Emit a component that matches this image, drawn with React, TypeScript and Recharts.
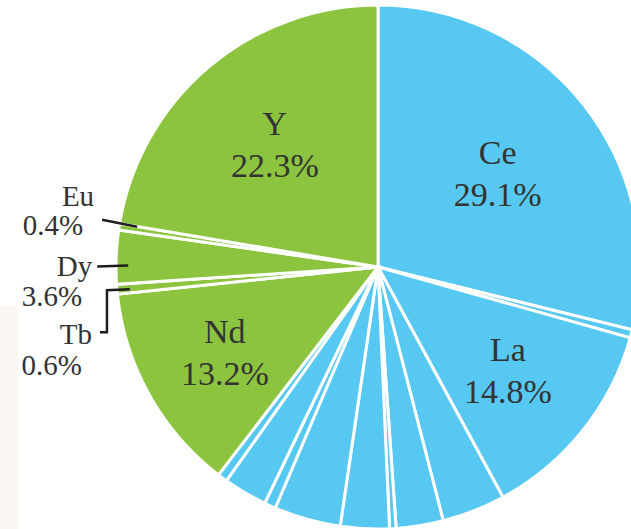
import React from "react";
import { Cell, Pie, PieChart } from "recharts";

// slices clockwise from 12 o'clock; the unnamed thin slices are left unlabeled
const elements = ["Ce", "o1", "La", "o2", "o3", "o4", "o5", "o6", "o7", "o8", "o9", "Nd", "Tb", "Dy", "Eu", "Y"];
const shares = [28.8, 0.5, 12.7, 3.9, 2.9, 0.4, 3.0, 4.1, 0.7, 2.7, 0.6, 12.9, 0.6, 3.3, 0.4, 22.3];
const groups = ["A", "A", "A", "A", "A", "A", "A", "A", "A", "A", "A", "B", "B", "B", "B", "B"];

const labeledNames = ["Ce", "La", "Nd", "Tb", "Dy", "Eu", "Y"];
const labeledPercents = ["29.1%", "14.8%", "13.2%", "0.6%", "3.6%", "0.4%", "22.3%"];

const data = elements.map((name, i) => ({ name, value: shares[i], group: groups[i] }));
const pctByName: Record<string, string> = {};
labeledNames.forEach((n, i) => (pctByName[n] = labeledPercents[i]));

const COLORS: Record<string, string> = { A: "#56c8f1", B: "#8cc43f" };
const FONT = "'Liberation Serif', 'Times New Roman', serif";
const TEXT = "#333";
const RAD = Math.PI / 180;

// radius factor for labels drawn inside the slice
const INNER: Record<string, number> = { Y: 0.61, Ce: 0.58, La: 0.635, Nd: 0.67 };

// outside labels: offsets from the slice's outer edge point
const OUTSIDE: Record<
  string,
  { line: [number, number][]; name: [number, number]; pct: [number, number] }
> = {
  Eu: { line: [[-17, -7], [18, 0]], name: [-25, -31], pct: [-36, -2] },
  Dy: { line: [[-19, 9.5], [12, 8.5]], name: [-24, 8.5], pct: [-34, 38.5] },
  Tb: {
    line: [[13, 0], [-10, 1], [-10, 43], [-17, 43]],
    name: [-25, 45],
    pct: [-35, 76],
  },
};

function renderLabel(props: any) {
  const { cx, cy, midAngle, outerRadius, name } = props;
  const pct = pctByName[name];
  if (!pct) return null;
  const pt = (r: number) => [
    cx + r * Math.cos(-midAngle * RAD),
    cy + r * Math.sin(-midAngle * RAD),
  ];

  if (INNER[name]) {
    const [x, y] = pt(outerRadius * INNER[name]);
    return (
      <g>
        <text x={x} y={y - 21} textAnchor="middle" dominantBaseline="central" fontSize={34} fontFamily={FONT} fill={TEXT}>
          {name}
        </text>
        <text x={x} y={y + 21} textAnchor="middle" dominantBaseline="central" fontSize={34} fontFamily={FONT} fill={TEXT}>
          {pct}
        </text>
      </g>
    );
  }

  const o = OUTSIDE[name];
  const [ex, ey] = pt(outerRadius);
  const points = o.line.map(([dx, dy]) => `${ex + dx},${ey + dy}`).join(" ");
  return (
    <g>
      <polyline points={points} fill="none" stroke="#1e1e1e" strokeWidth={2.5} />
      <text x={ex + o.name[0]} y={ey + o.name[1]} textAnchor="end" dominantBaseline="central" fontSize={29} fontFamily={FONT} fill={TEXT}>
        {name}
      </text>
      <text x={ex + o.pct[0]} y={ey + o.pct[1]} textAnchor="end" dominantBaseline="central" fontSize={29} fontFamily={FONT} fill={TEXT}>
        {pct}
      </text>
    </g>
  );
}

export default function App() {
  return (
    <div style={{ position: "absolute", left: 0, top: 0, width: 631, height: 529, background: "#fff", overflow: "hidden" }}>
      <div style={{ position: "absolute", left: 0, top: 305, width: 18, height: 224, background: "#fbf7f3" }} />
      <div style={{ position: "absolute", left: 0, top: 0 }}>
        <PieChart width={631} height={529} margin={{ top: 0, right: 0, bottom: 0, left: 0 }}>
          <Pie
            data={data}
            dataKey="value"
            nameKey="name"
            cx={378}
            cy={267}
            outerRadius={262}
            startAngle={90}
            endAngle={-270}
            stroke="#fff"
            strokeWidth={3}
            label={renderLabel}
            labelLine={false}
            isAnimationActive={false}
          >
            {data.map((d) => (
              <Cell key={d.name} fill={COLORS[d.group]} />
            ))}
          </Pie>
        </PieChart>
      </div>
    </div>
  );
}
